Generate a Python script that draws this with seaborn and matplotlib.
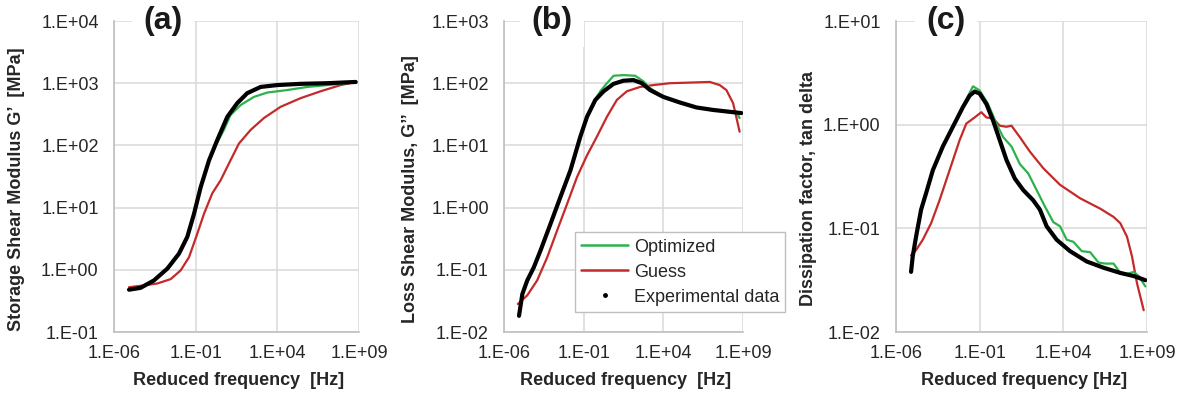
import numpy as np
import pandas as pd
import matplotlib
matplotlib.use('Agg')
import matplotlib.pyplot as plt
from matplotlib.lines import Line2D
from matplotlib.ticker import FixedLocator, FuncFormatter
import seaborn as sns

# Values, as log10 of frequency [Hz] and log10 of the quantity

# (a) storage modulus G' [MPa]
a_exp_f = [-5.08, -4.37, -3.55, -2.73, -2.02, -1.51, -1.10, -0.69, -0.18, 0.33, 0.94, 1.55, 2.16, 2.98, 4.00, 5.43, 7.06, 8.80]
a_exp_g = [-0.32, -0.29, -0.17, 0.02, 0.26, 0.53, 0.90, 1.33, 1.76, 2.09, 2.46, 2.68, 2.84, 2.94, 2.97, 2.99, 3.00, 3.02]
a_opt_f = [-5.08, -4.37, -3.55, -2.73, -2.02, -1.51, -1.10, -0.69, -0.18, 0.33, 0.73, 1.14, 1.76, 2.57, 3.39, 4.61, 5.84, 7.06, 8.29, 8.80]
a_opt_g = [-0.32, -0.29, -0.17, 0.02, 0.26, 0.53, 0.90, 1.33, 1.75, 2.05, 2.25, 2.49, 2.65, 2.78, 2.85, 2.89, 2.94, 2.97, 3.00, 3.02]
a_gue_f = [-5.08, -4.16, -3.35, -2.53, -1.92, -1.41, -0.90, -0.49, 0.02, 0.53, 1.04, 1.65, 2.37, 3.18, 4.20, 5.43, 6.65, 7.88, 8.80]
a_gue_g = [-0.28, -0.25, -0.22, -0.15, -0.01, 0.20, 0.58, 0.90, 1.23, 1.44, 1.71, 2.03, 2.25, 2.44, 2.62, 2.76, 2.87, 2.97, 3.02]

# (b) loss modulus G'' [MPa]
b_exp_f = [-5.06, -4.85, -4.54, -4.13, -3.71, -3.08, -2.46, -1.83, -1.21, -0.79, -0.27, 0.25, 0.88, 1.50, 2.13, 2.65, 3.17, 4.00, 5.04, 6.08, 7.13, 8.17, 8.90]
b_exp_g = [-1.74, -1.39, -1.17, -0.96, -0.69, -0.26, 0.17, 0.60, 1.14, 1.46, 1.73, 1.87, 1.99, 2.04, 2.05, 2.00, 1.89, 1.78, 1.69, 1.61, 1.57, 1.54, 1.52]
b_opt_f = [-5.06, -4.85, -4.54, -4.13, -3.71, -3.08, -2.46, -1.83, -1.21, -0.79, -0.27, 0.04, 0.46, 0.88, 1.50, 2.23, 2.75, 3.17, 4.00, 5.04, 6.08, 7.13, 8.17, 8.58, 8.79]
b_opt_g = [-1.74, -1.39, -1.17, -0.96, -0.69, -0.26, 0.17, 0.60, 1.14, 1.46, 1.74, 1.87, 2.00, 2.12, 2.13, 2.12, 2.03, 1.92, 1.78, 1.68, 1.61, 1.57, 1.53, 1.54, 1.44]
b_gue_f = [-5.13, -4.54, -3.92, -3.29, -2.67, -2.04, -1.42, -0.79, -0.17, 0.46, 1.08, 1.71, 2.54, 3.38, 4.42, 5.67, 6.92, 7.54, 7.96, 8.38, 8.58, 8.79]
b_gue_g = [-1.55, -1.41, -1.17, -0.80, -0.37, 0.06, 0.49, 0.84, 1.14, 1.46, 1.73, 1.87, 1.94, 1.97, 2.00, 2.01, 2.02, 1.97, 1.89, 1.68, 1.46, 1.22]

# (c) tan delta
c_exp_f = [-5.1, -5.0, -4.8, -4.5, -4.2, -3.8, -3.2, -2.6, -2.0, -1.6, -1.3, -1.0, -0.6, -0.2, 0.2, 0.6, 1.1, 1.6, 2.2, 2.6, 3.0, 3.6, 4.4, 5.4, 6.4, 7.4, 8.2, 8.9]
c_exp_g = [-1.42, -1.27, -1.08, -0.82, -0.66, -0.44, -0.21, -0.02, 0.17, 0.28, 0.32, 0.30, 0.20, 0.04, -0.15, -0.34, -0.52, -0.63, -0.73, -0.82, -0.98, -1.11, -1.22, -1.32, -1.38, -1.43, -1.46, -1.50]
c_opt_f = [-5.1, -5.0, -4.8, -4.5, -4.2, -3.8, -3.2, -2.6, -2.0, -1.4, -1.0, -0.5, 0.0, 0.4, 0.9, 1.4, 1.9, 2.4, 2.9, 3.4, 3.8, 4.2, 4.6, 5.1, 5.6, 6.1, 6.5, 7.0, 7.4, 7.8, 8.2, 8.5, 8.9]
c_opt_g = [-1.42, -1.27, -1.08, -0.82, -0.66, -0.44, -0.21, -0.02, 0.18, 0.37, 0.33, 0.20, 0.01, -0.12, -0.21, -0.38, -0.47, -0.63, -0.79, -0.94, -0.98, -1.11, -1.13, -1.22, -1.23, -1.33, -1.34, -1.34, -1.43, -1.44, -1.42, -1.46, -1.56]
c_gue_f = [-5.1, -4.8, -4.4, -3.9, -3.4, -2.8, -2.2, -1.8, -1.3, -0.9, -0.6, -0.2, 0.2, 0.6, 0.9, 1.4, 2.0, 2.8, 3.8, 5.0, 6.2, 7.0, 7.4, 7.8, 8.1, 8.4, 8.8]
c_gue_g = [-1.26, -1.21, -1.11, -0.95, -0.73, -0.44, -0.15, 0.01, 0.07, 0.12, 0.07, 0.06, -0.01, -0.02, -0.01, -0.12, -0.26, -0.42, -0.58, -0.71, -0.81, -0.89, -0.95, -1.08, -1.27, -1.53, -1.79]

x_ticks = [-6, -1, 4, 9]
panel_titles = ['(a)', '(b)', '(c)']
y_labels = ['Storage Shear Modulus G\u2019  [MPa]',
            'Loss Shear Modulus, G\u2019\u2019  [MPa]',
            'Dissipation factor, tan delta']
x_labels = ['Reduced frequency  [Hz]', 'Reduced frequency  [Hz]', 'Reduced frequency [Hz]']
y_ranges = [(-1, 4), (-2, 3), (-2, 1)]
series_names = ['Optimized', 'Guess', 'Experimental data']

green = '#2bb24c'
red = '#c42a2a'

sns.set_style('white')
plt.rcParams['font.family'] = ['Liberation Sans', 'DejaVu Sans']

fig = plt.figure(figsize=(11.91, 3.97), dpi=100)
boxes = [[0.0957, 0.1637, 0.2057, 0.7834],
         [0.4232, 0.1637, 0.2006, 0.7834],
         [0.7523, 0.1637, 0.2108, 0.7834]]
ylab_x = [-0.363, -0.356, -0.315]

panels = [
    (a_opt_f, a_opt_g, a_gue_f, a_gue_g, a_exp_f, a_exp_g),
    (b_opt_f, b_opt_g, b_gue_f, b_gue_g, b_exp_f, b_exp_g),
    (c_opt_f, c_opt_g, c_gue_f, c_gue_g, c_exp_f, c_exp_g),
]


def sci_label(v, pos):
    e = int(round(np.log10(v)))
    return f'1.E{e:+03d}'


for i, (of, og, gf, gg, ef, eg) in enumerate(panels):
    ax = fig.add_axes(boxes[i])
    opt = pd.DataFrame({'f': np.power(10.0, of), 'g': np.power(10.0, og)})
    gue = pd.DataFrame({'f': np.power(10.0, gf), 'g': np.power(10.0, gg)})
    exp = pd.DataFrame({'f': np.power(10.0, ef), 'g': np.power(10.0, eg)})

    sns.lineplot(data=gue, x='f', y='g', ax=ax, color=red, lw=1.6, sort=False, estimator=None, zorder=3)
    sns.lineplot(data=opt, x='f', y='g', ax=ax, color=green, lw=1.6, sort=False, estimator=None, zorder=4)
    sns.lineplot(data=exp, x='f', y='g', ax=ax, color='black', lw=3.0, sort=False, estimator=None, zorder=5)

    ax.set_xscale('log')
    ax.set_yscale('log')
    ax.set_xlim(10.0 ** x_ticks[0], 10.0 ** x_ticks[-1])
    lo, hi = y_ranges[i]
    ax.set_ylim(10.0 ** lo, 10.0 ** hi)
    ax.xaxis.set_major_locator(FixedLocator([10.0 ** t for t in x_ticks]))
    ax.yaxis.set_major_locator(FixedLocator([10.0 ** t for t in range(lo, hi + 1)]))
    ax.xaxis.set_minor_locator(FixedLocator([]))
    ax.yaxis.set_minor_locator(FixedLocator([]))
    ax.xaxis.set_major_formatter(FuncFormatter(sci_label))
    ax.yaxis.set_major_formatter(FuncFormatter(sci_label))
    ax.tick_params(length=0, labelsize=13, labelcolor='#262626')
    ax.tick_params(axis='x', pad=9)
    ax.tick_params(axis='y', pad=11)

    ax.grid(True, color='#d9d9d9', lw=1.1, zorder=0)
    ax.set_axisbelow(True)
    for side in ['top', 'right']:
        ax.spines[side].set_visible(False)
    for side in ['left', 'bottom']:
        ax.spines[side].set_color('#bfbfbf')
        ax.spines[side].set_linewidth(1.2)

    ax.set_xlabel(x_labels[i], fontsize=13, fontweight='bold', color='#262626')
    ax.set_ylabel(y_labels[i], fontsize=13, fontweight='bold', color='#262626')
    ax.xaxis.set_label_coords(0.51, -0.13)
    ax.yaxis.set_label_coords(ylab_x[i], 0.46)

    ax.text(0.2, 1.0, panel_titles[i], transform=ax.transAxes, ha='center', va='center',
            fontsize=23, fontweight='bold', color='#1a1a1a', zorder=10, clip_on=False,
            bbox=dict(boxstyle='square,pad=0.35', fc='white', ec='none'))

    if i == 1:
        handles = [Line2D([], [], color=green, lw=1.8),
                   Line2D([], [], color=red, lw=1.8),
                   Line2D([], [], color='black', lw=0, marker='o', markersize=2.5)]
        leg = ax.legend(handles, series_names, loc='lower left', bbox_to_anchor=(0.297, 0.064),
                        fontsize=13, frameon=True, fancybox=False, framealpha=1,
                        edgecolor='#bfbfbf', handlelength=2.6, borderpad=0.35,
                        labelspacing=0.45, handletextpad=0.3, borderaxespad=0)
        leg.get_frame().set_linewidth(1.0)
        leg.set_zorder(20)

fig.savefig('out.png', dpi=100)
